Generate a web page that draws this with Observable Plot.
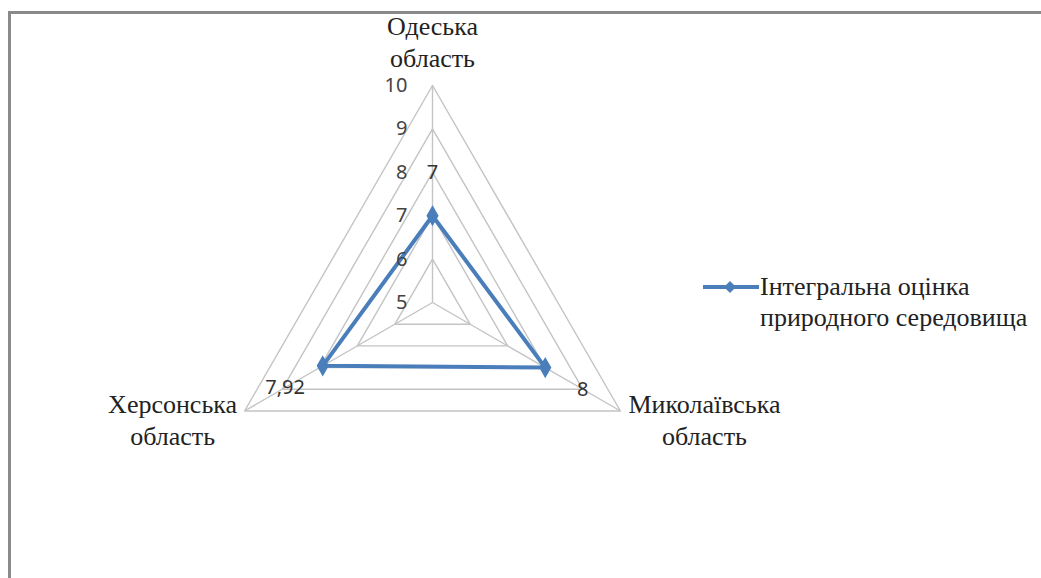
<!DOCTYPE html>
<html>
<head>
<meta charset="utf-8">
<script src="https://cdn.jsdelivr.net/npm/d3@7"></script>
<script src="https://cdn.jsdelivr.net/npm/@observablehq/plot@0.6"></script>
<style>
  body { margin: 0; background: #fff; }
  #wrap { position: relative; width: 1041px; height: 578px; overflow: hidden; }
  #frame { position: absolute; left: 8px; top: 11px; right: -5px; bottom: -5px;
           border-top: 3px solid #8a8a8a; border-left: 3px solid #8a8a8a; pointer-events: none; }
  #legend { position: absolute; left: 702px; top: 271px; display: flex; align-items: flex-start;
            font-family: "Liberation Serif", "DejaVu Serif", "Times New Roman", serif; font-size: 26px; line-height: 31px; color: #222; }
  #legend svg { margin-top: 1px; }
</style>
</head>
<body>
<div id="wrap">
  <div id="chart"></div>
  <div id="frame"></div>
  <div id="legend"></div>
</div>
<script>
// ---- data ----
const categories = ["Одеська\nобласть", "Миколаївська\nобласть", "Херсонська\nобласть"];
const values = [7, 8, 7.92];
const valueLabels = ["7", "8", "7,92"];
const ticks = [5, 6, 7, 8, 9, 10];
const tickLabels = ["5", "6", "7", "8", "9", "10"];
const seriesName = "Інтегральна оцінка\nприродного середовища";

// ---- geometry helpers (polar -> cartesian in value units) ----
const vMin = 5, vMax = 10;
const n = categories.length;
const ang = i => Math.PI / 2 - i * 2 * Math.PI / n;
const pt = (i, v) => ({x: (v - vMin) * Math.cos(ang(i)), y: (v - vMin) * Math.sin(ang(i))});

const W = 1041, H = 578;
const pxPerUnit = 217 / (vMax - vMin);
const cx = 432, cy = 302;
const xDomain = [-cx / pxPerUnit, (W - cx) / pxPerUnit];
const yDomain = [-(H - cy) / pxPerUnit, cy / pxPerUnit];

const gridData = ticks.filter(t => t > vMin).flatMap(t =>
  [0, 1, 2, 0].map(i => ({...pt(i, t), t})));
const spokes = categories.map((c, i) => ({x1: 0, y1: 0, x2: pt(i, vMax).x, y2: pt(i, vMax).y}));
const series = [0, 1, 2, 0].map(i => ({...pt(i, values[i])}));
const pointsData = values.map((v, i) => ({...pt(i, v), label: valueLabels[i], lp: pt(i, v + 1)}));
const tickData = ticks.map((t, k) => ({...pt(0, t), label: tickLabels[k]}));
const catData = categories.map((c, i) => ({...pt(i, vMax), label: c, i}));

const blue = "#4A7EBB";
const serif = "'Liberation Serif', 'DejaVu Serif', 'Times New Roman', serif";
const catFont = {fontFamily: serif, fontSize: 26, lineHeight: 1.2, fill: "#222"};

const chart = Plot.plot({
  width: W, height: H,
  margin: 0,
  x: {domain: xDomain, axis: null},
  y: {domain: yDomain, axis: null},
  marks: [
    Plot.line(gridData, {x: "x", y: "y", z: "t", stroke: "#c4c4c4", strokeWidth: 1.4}),
    Plot.link(spokes, {x1: "x1", y1: "y1", x2: "x2", y2: "y2", stroke: "#c4c4c4", strokeWidth: 1.4}),
    Plot.line(series, {x: "x", y: "y", stroke: blue, strokeWidth: 4, curve: "linear"}),
    Plot.dot(pointsData, {x: "x", y: "y", symbol: "diamond", r: 5.5, fill: blue, stroke: blue}),
    Plot.text(pointsData, {x: d => d.lp.x, y: d => d.lp.y, text: "label",
      fontFamily: "Noto Sans, sans-serif", fontSize: 20, fill: "#333"}),
    Plot.text(tickData, {x: "x", y: "y", text: "label", textAnchor: "end", dx: -25,
      fontFamily: "Noto Sans, sans-serif", fontSize: 20, fill: "#444"}),
    Plot.text(catData.filter(d => d.i === 0), {x: "x", y: "y", text: "label",
      lineAnchor: "bottom", dy: -19, ...catFont}),
    Plot.text(catData.filter(d => d.i === 1), {x: "x", y: "y", text: "label",
      lineAnchor: "middle", dx: 84, dy: 8, ...catFont}),
    Plot.text(catData.filter(d => d.i === 2), {x: "x", y: "y", text: "label",
      lineAnchor: "middle", dx: -72, dy: 8, ...catFont})
  ]
});
document.getElementById("chart").appendChild(chart);

// legend
const leg = document.getElementById("legend");
leg.innerHTML = `<svg width="58" height="30"><line x1="1" y1="15" x2="57" y2="15" stroke="${blue}" stroke-width="4"/>
<path d="M28,9 L34,15 L28,21 L22,15 Z" fill="${blue}"/></svg>
<div>${seriesName.split("\n").join("<br>")}</div>`;
</script>
</body>
</html>
